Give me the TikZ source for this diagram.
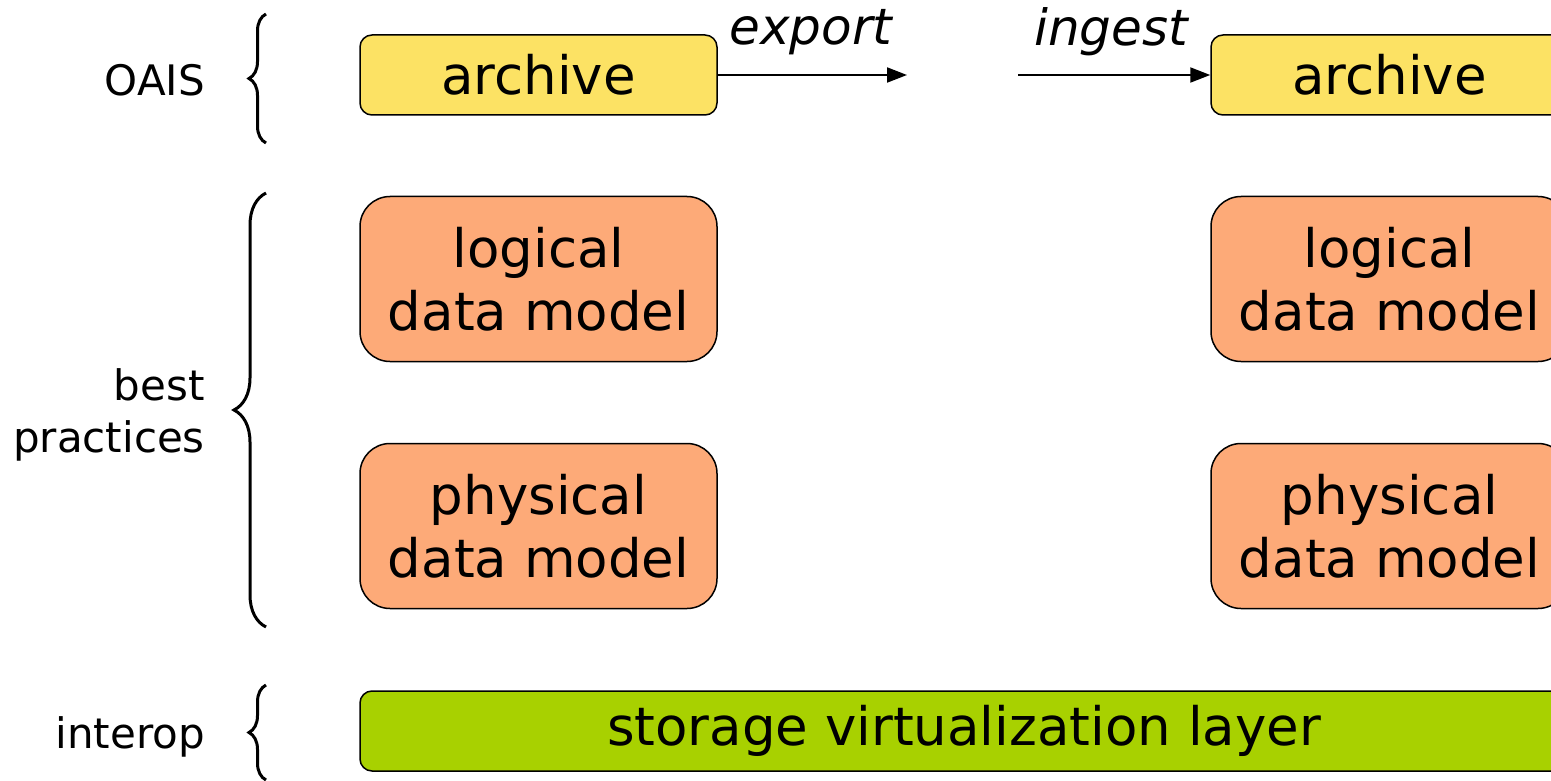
\documentclass[tikz,border=0pt]{standalone}
\usepackage{fontspec}
\setmainfont{DejaVu Sans}
\usetikzlibrary{arrows.meta,decorations.pathreplacing}
\definecolor{archyellow}{RGB}{252,226,100}
\definecolor{modelorange}{RGB}{253,170,120}
\definecolor{layergreen}{RGB}{168,209,0}
\begin{document}
\begin{tikzpicture}[x=1pt,y=-1pt,
  box/.style={draw=black,line width=1.5pt,align=center,inner sep=0pt,
    font=\fontsize{53}{63}\selectfont,minimum width=357pt},
  archbox/.style={box,fill=archyellow,rounded corners=12pt,minimum height=80pt},
  modelbox/.style={box,fill=modelorange,rounded corners=30pt,minimum height=165pt},
  layerbox/.style={box,fill=layergreen,rounded corners=12pt,minimum height=80pt},
  grouplabel/.style={anchor=east,align=right,inner sep=0pt,font=\fontsize{42}{52}\selectfont},
  flowlabel/.style={inner sep=0pt,font=\fontsize{50}{60}\selectfont\itshape},
  flow/.style={line width=2pt,-{Triangle[length=20pt,width=15pt]}},
  grp/.style={line width=3pt,decorate,decoration={brace,amplitude=#1}}]
\useasboundingbox (0,0) rectangle (1551,781);
\clip (0,0) rectangle (1551,781);

\node[archbox] (a1) at (538.5,75){archive};
\node[archbox] (a2) at (1389.5,75){archive};
\node[modelbox] (l1) at (538.5,279){logical\\data model};
\node[modelbox] (l2) at (1389.5,279){logical\\data model};
\node[modelbox] (p1) at (538.5,526){physical\\data model};
\node[modelbox] (p2) at (1389.5,526){physical\\data model};
\node[layerbox,minimum width=1208pt] (s1) at (964,731){storage virtualization layer};

\coordinate (e1) at (907,75);
\coordinate (i1) at (1018,75);
\draw[flow] (a1.east) -- (e1);
\draw[flow] (i1) -- (a2.west);
\node[flowlabel] (ex) at (811,32){export};
\node[flowlabel] (in) at (1111,32){ingest};

\node[grouplabel] (g1) at (205,80){OAIS};
\node[grouplabel] (g2) at (205,415){best\\practices};
\node[grouplabel] (g3) at (205,737){interop};

\draw[grp=17pt] (266,143) -- (266,14);
\draw[grp=32pt] (266,627) -- (266,193);
\draw[grp=17pt] (266,780) -- (266,685);
\end{tikzpicture}
\end{document}
